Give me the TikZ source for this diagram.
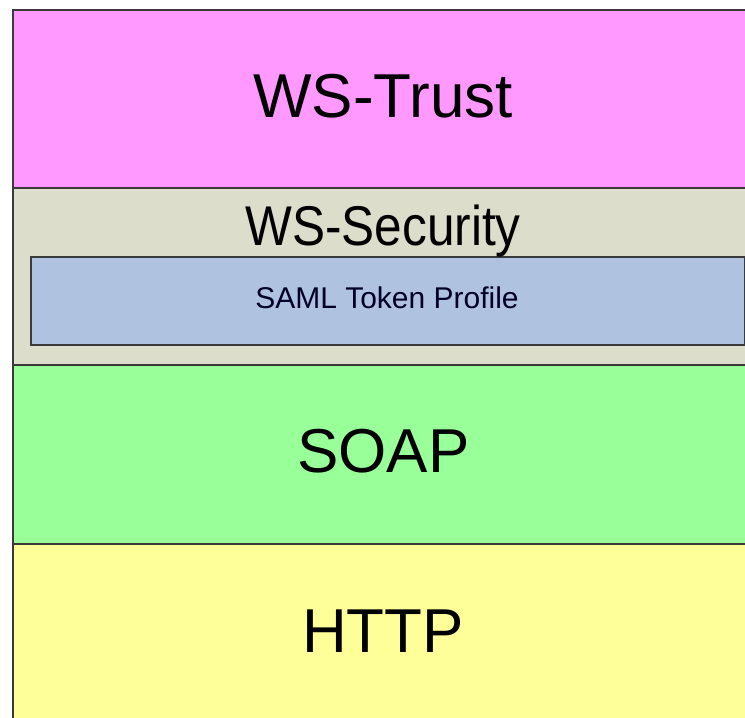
\documentclass[tikz,border=0pt]{standalone}
\usepackage{fontspec}
\setmainfont{Liberation Sans}
\definecolor{trustpink}{HTML}{FF99FF}
\definecolor{secgray}{HTML}{DCDDCB}
\definecolor{samlblue}{HTML}{AFC3E0}
\definecolor{soapgreen}{HTML}{99FF99}
\definecolor{httpyellow}{HTML}{FFFF99}
\definecolor{edgegray}{HTML}{3A3A3A}
\tikzset{
  layer/.style={draw=edgegray, line width=2.2pt, rectangle, inner sep=0pt, anchor=north west},
  bigtext/.style={anchor=base, inner sep=0pt, text=black, font=\fontsize{62}{62}\selectfont},
  smalltext/.style={anchor=base, inner sep=0pt, text=black!85!blue, font=\fontsize{30}{30}\selectfont},
}
\begin{document}
\begin{tikzpicture}[x=1pt, y=-1pt]
  \useasboundingbox (0,0) rectangle (745,718);
  \clip (0,0) rectangle (745,718);
  \fill[white] (0,0) rectangle (745,718);
  % protocol layers, top to bottom
  \node[layer, fill=trustpink, minimum width=760pt, minimum height=178pt] (trust) at (11.5,9) {};
  \node[layer, fill=secgray, minimum width=760pt, minimum height=177pt] (security) at (11.5,187) {};
  \node[layer, fill=soapgreen, minimum width=760pt, minimum height=179pt] (soap) at (11.5,364) {};
  \node[layer, fill=httpyellow, minimum width=760pt, minimum height=200pt] (http) at (11.5,543) {};
  % token profile inside WS-Security
  \node[layer, fill=samlblue, line width=2pt, minimum width=714pt, minimum height=88pt] (saml) at (30,256) {};
  % labels
  \node[bigtext] (trustlbl) at (383,117) {WS-Trust};
  \node[bigtext, font=\fontsize{56}{56}\selectfont] (seclbl) at (383,245) {\scalebox{0.885}[1]{WS-Security}};
  \node[smalltext] (samllbl) at (387,308) {SAML Token Profile};
  \node[bigtext] (soaplbl) at (383.5,472) {SOAP};
  \node[bigtext] (httplbl) at (383,652) {HTTP};
\end{tikzpicture}
\end{document}
